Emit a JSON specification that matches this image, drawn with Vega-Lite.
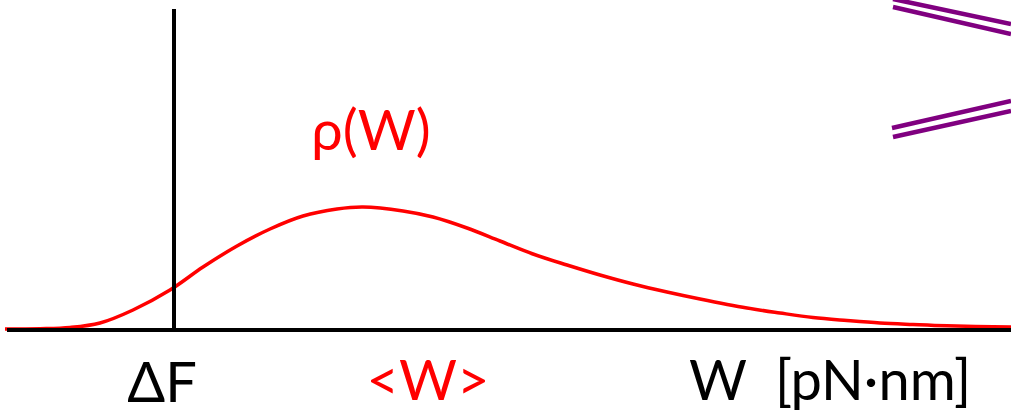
{
  "$schema": "https://vega.github.io/schema/vega-lite/v6.json",
  "autosize": {"type": "none"},
  "width": 1011,
  "height": 413,
  "padding": 0,
  "background": "white",
  "config": {"view": {"stroke": null}},
  "datasets": {
    "curve": [
      {"w": 5, "rho": 1}, {"w": 40, "rho": 1.3}, {"w": 70, "rho": 2.5}, {"w": 100, "rho": 7},
      {"w": 133, "rho": 20}, {"w": 170, "rho": 40}, {"w": 203, "rho": 63}, {"w": 237, "rho": 84},
      {"w": 270, "rho": 101}, {"w": 303, "rho": 114}, {"w": 337, "rho": 121}, {"w": 363, "rho": 123},
      {"w": 403, "rho": 119}, {"w": 433, "rho": 113}, {"w": 467, "rho": 102}, {"w": 500, "rho": 89},
      {"w": 533, "rho": 76}, {"w": 567, "rho": 65}, {"w": 600, "rho": 55}, {"w": 633, "rho": 46},
      {"w": 667, "rho": 38}, {"w": 700, "rho": 31}, {"w": 747, "rho": 22}, {"w": 780, "rho": 17},
      {"w": 813, "rho": 12.5}, {"w": 847, "rho": 9.5}, {"w": 880, "rho": 7}, {"w": 913, "rho": 5.5},
      {"w": 947, "rho": 4.2}, {"w": 1011, "rho": 3}
    ],
    "black": [
      {"x": 7, "x2": 1011, "y": 0, "y2": 0},
      {"x": 174, "x2": 174, "y": 0, "y2": 321}
    ],
    "purple": [
      {"x": 893, "x2": 1011, "y": 331, "y2": 306},
      {"x": 893, "x2": 1011, "y": 323, "y2": 296},
      {"x": 892, "x2": 1011, "y": 202, "y2": 229},
      {"x": 893, "x2": 1011, "y": 193, "y2": 219}
    ],
    "blackText": [
      {"x": 162, "y": -72, "t": "ΔF"}
    ],
    "unitText": [
      {"x": 689, "y": -70, "t": "W\u00a0\u00a0[pN·nm]"}
    ],
    "redText": [
      {"x": 428, "y": -70, "t": "<W>"},
      {"x": 371, "y": 180, "t": "ρ(W)"}
    ]
  },
  "layer": [
    {
      "data": {"name": "curve"},
      "mark": {"type": "line", "color": "#ff0000", "strokeWidth": 3.5, "interpolate": "catmull-rom"},
      "encoding": {
        "x": {"field": "w", "type": "quantitative", "scale": {"domain": [0, 1011], "nice": false, "zero": false}, "axis": null},
        "y": {"field": "rho", "type": "quantitative", "scale": {"domain": [-83, 330], "nice": false, "zero": false}, "axis": null}
      }
    },
    {
      "data": {"name": "black"},
      "mark": {"type": "rule", "color": "black", "strokeWidth": 4},
      "encoding": {
        "x": {"field": "x", "type": "quantitative"},
        "x2": {"field": "x2"},
        "y": {"field": "y", "type": "quantitative"},
        "y2": {"field": "y2"}
      }
    },
    {
      "data": {"name": "purple"},
      "mark": {"type": "rule", "color": "#800080", "strokeWidth": 4.5},
      "encoding": {
        "x": {"field": "x", "type": "quantitative"},
        "x2": {"field": "x2"},
        "y": {"field": "y", "type": "quantitative"},
        "y2": {"field": "y2"}
      }
    },
    {
      "data": {"name": "blackText"},
      "mark": {"type": "text", "color": "black", "font": "Lato", "fontSize": 56, "baseline": "alphabetic", "align": "center"},
      "encoding": {
        "x": {"field": "x", "type": "quantitative"},
        "y": {"field": "y", "type": "quantitative"},
        "text": {"field": "t"}
      }
    },
    {
      "data": {"name": "unitText"},
      "mark": {"type": "text", "color": "black", "font": "Lato", "fontSize": 56, "baseline": "alphabetic", "align": "left"},
      "encoding": {
        "x": {"field": "x", "type": "quantitative"},
        "y": {"field": "y", "type": "quantitative"},
        "text": {"field": "t"}
      }
    },
    {
      "data": {"name": "redText"},
      "mark": {"type": "text", "color": "#ff0000", "font": "Lato", "fontSize": 56, "baseline": "alphabetic", "align": "center"},
      "encoding": {
        "x": {"field": "x", "type": "quantitative"},
        "y": {"field": "y", "type": "quantitative"},
        "text": {"field": "t"}
      }
    }
  ]
}
